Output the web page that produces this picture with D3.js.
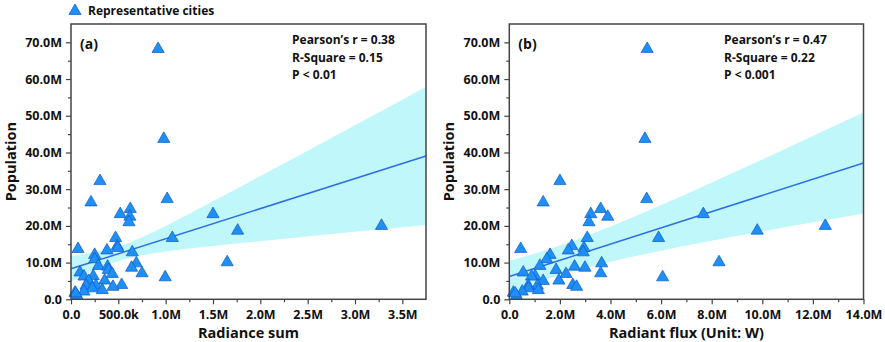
<!DOCTYPE html>
<html><head><meta charset="utf-8">
<script src="https://cdn.jsdelivr.net/npm/d3@7"></script>
<style>
body{margin:0;background:#fff}
text{font-family:"Open Sans","Noto Sans",sans-serif;font-weight:700;fill:#111}
</style>
</head><body>
<svg id="c" width="885" height="342"></svg>
<script>
// ---- data (values in millions) ----
const populationM = [68.2, 43.7, 32.2, 27.3, 26.4, 24.6, 23.2, 23.2, 22.5, 21.0, 20.0, 18.7, 16.7, 16.7, 14.5, 14.0, 13.7, 13.3, 12.8, 12.1, 10.9, 10.1, 9.8, 9.1, 8.9, 8.6, 8.0, 7.3, 7.1, 6.9, 6.0, 6.3, 6.2, 5.1, 5.0, 3.9, 3.4, 3.7, 3.7, 3.0, 2.5, 2.1, 1.8, 0.9, 1.6];
const radianceSumM = [0.92, 0.98, 0.306, 1.016, 0.211, 0.626, 1.50, 0.52, 0.622, 0.612, 3.28, 1.76, 1.07, 0.471, 0.489, 0.495, 0.074, 0.38, 0.647, 0.25, 0.25, 1.65, 0.69, 0.29, 0.387, 0.64, 0.394, 0.095, 0.75, 0.436, 0.995, 0.235, 0.137, 0.356, 0.187, 0.535, 0.443, 0.158, 0.264, 0.225, 0.33, 0.137, 0.042, 0.066, 0.05];
const radiantFluxM = [5.45, 5.36, 2.0, 5.43, 1.34, 3.61, 7.67, 3.22, 3.89, 3.15, 12.49, 9.80, 5.90, 3.08, 2.47, 2.95, 0.45, 2.33, 2.92, 1.61, 1.48, 8.29, 3.65, 1.21, 2.58, 2.99, 1.85, 0.55, 3.61, 2.24, 6.06, 1.02, 0.88, 1.96, 1.34, 2.51, 2.66, 1.11, 0.75, 0.75, 1.15, 0.51, 0.16, 0.29, 0.23];

// fitted lines and 95% confidence bands
const fitAX = [0, 3.75], fitAY = [8.3, 39.05];
const bandAX = [0, 0.25, 0.5, 0.75, 1.0, 1.5, 2.0, 2.5, 3.0, 3.5, 3.75];
const bandAHi = [11.8, 12.81, 14.4, 16.91, 20.0, 26.69, 33.56, 40.48, 47.42, 54.38, 57.85];
const bandALo = [4.8, 7.89, 10.4, 11.99, 13.0, 14.51, 15.84, 17.12, 18.38, 19.62, 20.25];
const fitBX = [0, 14], fitBY = [6.2, 37.14];
const bandBX = [0, 1, 2, 3, 4, 6, 8, 10, 12, 14];
const bandBHi = [10.5, 12.44, 14.65, 17.13, 19.83, 25.66, 31.81, 38.11, 44.48, 50.9];
const bandBLo = [1.9, 4.38, 6.59, 8.53, 10.25, 13.26, 15.95, 18.49, 20.96, 23.38];

const yTicks = [0, 10, 20, 30, 40, 50, 60, 70];
const yTickLabels = ["0.0", "10.0M", "20.0M", "30.0M", "40.0M", "50.0M", "60.0M", "70.0M"];
const xTicksA = [0, 0.5, 1.0, 1.5, 2.0, 2.5, 3.0, 3.5];
const xTickLabelsA = ["0.0", "500.0k", "1.0M", "1.5M", "2.0M", "2.5M", "3.0M", "3.5M"];
const xTicksB = [0, 2, 4, 6, 8, 10, 12, 14];
const xTickLabelsB = ["0.0", "2.0M", "4.0M", "6.0M", "8.0M", "10.0M", "12.0M", "14.0M"];

const statsA = ["Pearson\u2019s r = 0.38", "R-Square = 0.15", "P < 0.01"];
const statsB = ["Pearson\u2019s r = 0.47", "R-Square = 0.22", "P < 0.001"];

// ---- drawing ----
const svg = d3.select("#c");
svg.append("rect").attr("width", 885).attr("height", 342).attr("fill", "#fff");

const C = {band: "#c0f7fb", line: "#2f6fe0", fill: "#1e8ff5", stroke: "#1059c4", axis: "#444"};
const triangle = d3.symbol().type(d3.symbolTriangle).size(64);

const panels = [
  {x0: 71, x1: 426, xMax: 3.75, xs: radianceSumM, fitX: fitAX, fitY: fitAY, bx: bandAX, bh: bandAHi, bl: bandALo,
   ticks: xTicksA, labels: xTickLabelsA, minorStep: 0.25, title: "Radiance sum", tag: "(a)", stats: statsA, statX: 292},
  {x0: 509.3, x1: 863.5, xMax: 14, xs: radiantFluxM, fitX: fitBX, fitY: fitBY, bx: bandBX, bh: bandBHi, bl: bandBLo,
   ticks: xTicksB, labels: xTickLabelsB, minorStep: 1, title: "Radiant flux (Unit: W)", tag: "(b)", stats: statsB, statX: 724}
];
const yTop = 24, yBot = 299.3;
const y = d3.scaleLinear().domain([0, 75]).range([yBot, yTop]);

panels.forEach(p => {
  const x = d3.scaleLinear().domain([0, p.xMax]).range([p.x0, p.x1]);
  const g = svg.append("g");
  const clipId = "clip" + p.tag.replace(/\W/g, "");
  svg.append("clipPath").attr("id", clipId).append("rect")
    .attr("x", p.x0).attr("y", yTop).attr("width", p.x1 - p.x0).attr("height", yBot - yTop);

  const bandData = p.bx.map((v, i) => ({x: v, hi: p.bh[i], lo: p.bl[i]}));
  g.append("path").datum(bandData)
    .attr("clip-path", `url(#${clipId})`)
    .attr("fill", C.band)
    .attr("d", d3.area().x(d => x(d.x)).y0(d => y(d.lo)).y1(d => y(d.hi)).curve(d3.curveMonotoneX));

  g.append("path").datum(p.fitX.map((v, i) => [v, p.fitY[i]]))
    .attr("fill", "none").attr("stroke", C.line).attr("stroke-width", 1.5)
    .attr("d", d3.line().x(d => x(d[0])).y(d => y(d[1])));

  g.append("g").selectAll("path").data(p.xs.map((v, i) => [v, populationM[i]]))
    .join("path")
    .attr("d", triangle)
    .attr("transform", d => `translate(${x(d[0])},${y(d[1])})`)
    .attr("fill", C.fill).attr("stroke", C.stroke).attr("stroke-width", 0.7);

  // frame
  g.append("rect").attr("x", p.x0).attr("y", yTop).attr("width", p.x1 - p.x0).attr("height", yBot - yTop)
    .attr("fill", "none").attr("stroke", C.axis).attr("stroke-width", 1.5);

  // axes
  const yMinor = d3.range(5, 75, 10);
  const xMinor = d3.range(p.minorStep, p.xMax, p.minorStep * 2);
  g.append("g").attr("transform", `translate(${p.x0},0)`)
    .call(d3.axisLeft(y).tickValues(yTicks).tickFormat((d, i) => yTickLabels[i]).tickSize(5).tickPadding(4));
  g.append("g").attr("transform", `translate(${p.x0},0)`)
    .call(d3.axisLeft(y).tickValues(yMinor).tickFormat("").tickSize(3));
  g.append("g").attr("transform", `translate(0,${yBot})`)
    .call(d3.axisBottom(x).tickValues(p.ticks).tickFormat((d, i) => p.labels[i]).tickSize(5).tickPadding(5.5));
  g.append("g").attr("transform", `translate(0,${yBot})`)
    .call(d3.axisBottom(x).tickValues(xMinor).tickFormat("").tickSize(3));
  g.selectAll(".domain").remove();
  g.selectAll(".tick line").attr("stroke", C.axis).attr("stroke-width", 1.2);
  g.selectAll(".tick text").attr("font-size", 12.5).attr("fill", "#111")
    .attr("font-family", '"Open Sans","Noto Sans",sans-serif').attr("font-weight", 700);

  // titles
  g.append("text").attr("x", (p.x0 + p.x1) / 2).attr("y", 338).attr("text-anchor", "middle")
    .attr("font-size", 14.5).text(p.title);
  g.append("text").attr("transform", `translate(${p.x0 - 55},${(yTop + yBot) / 2}) rotate(-90)`)
    .attr("text-anchor", "middle").attr("font-size", 14.5).text("Population");
  g.append("text").attr("x", p.x0 + 9).attr("y", 49).attr("font-size", 14).text(p.tag);
  p.stats.forEach((s, i) => {
    g.append("text").attr("x", p.statX).attr("y", 44 + i * 17.5).attr("font-size", 12).text(s);
  });
});

// legend
svg.append("path").attr("d", triangle).attr("transform", "translate(75,11)")
  .attr("fill", C.fill).attr("stroke", C.stroke).attr("stroke-width", 0.7);
svg.append("text").attr("x", 88).attr("y", 15).attr("font-size", 12).text("Representative cities");
</script>
</body></html>
